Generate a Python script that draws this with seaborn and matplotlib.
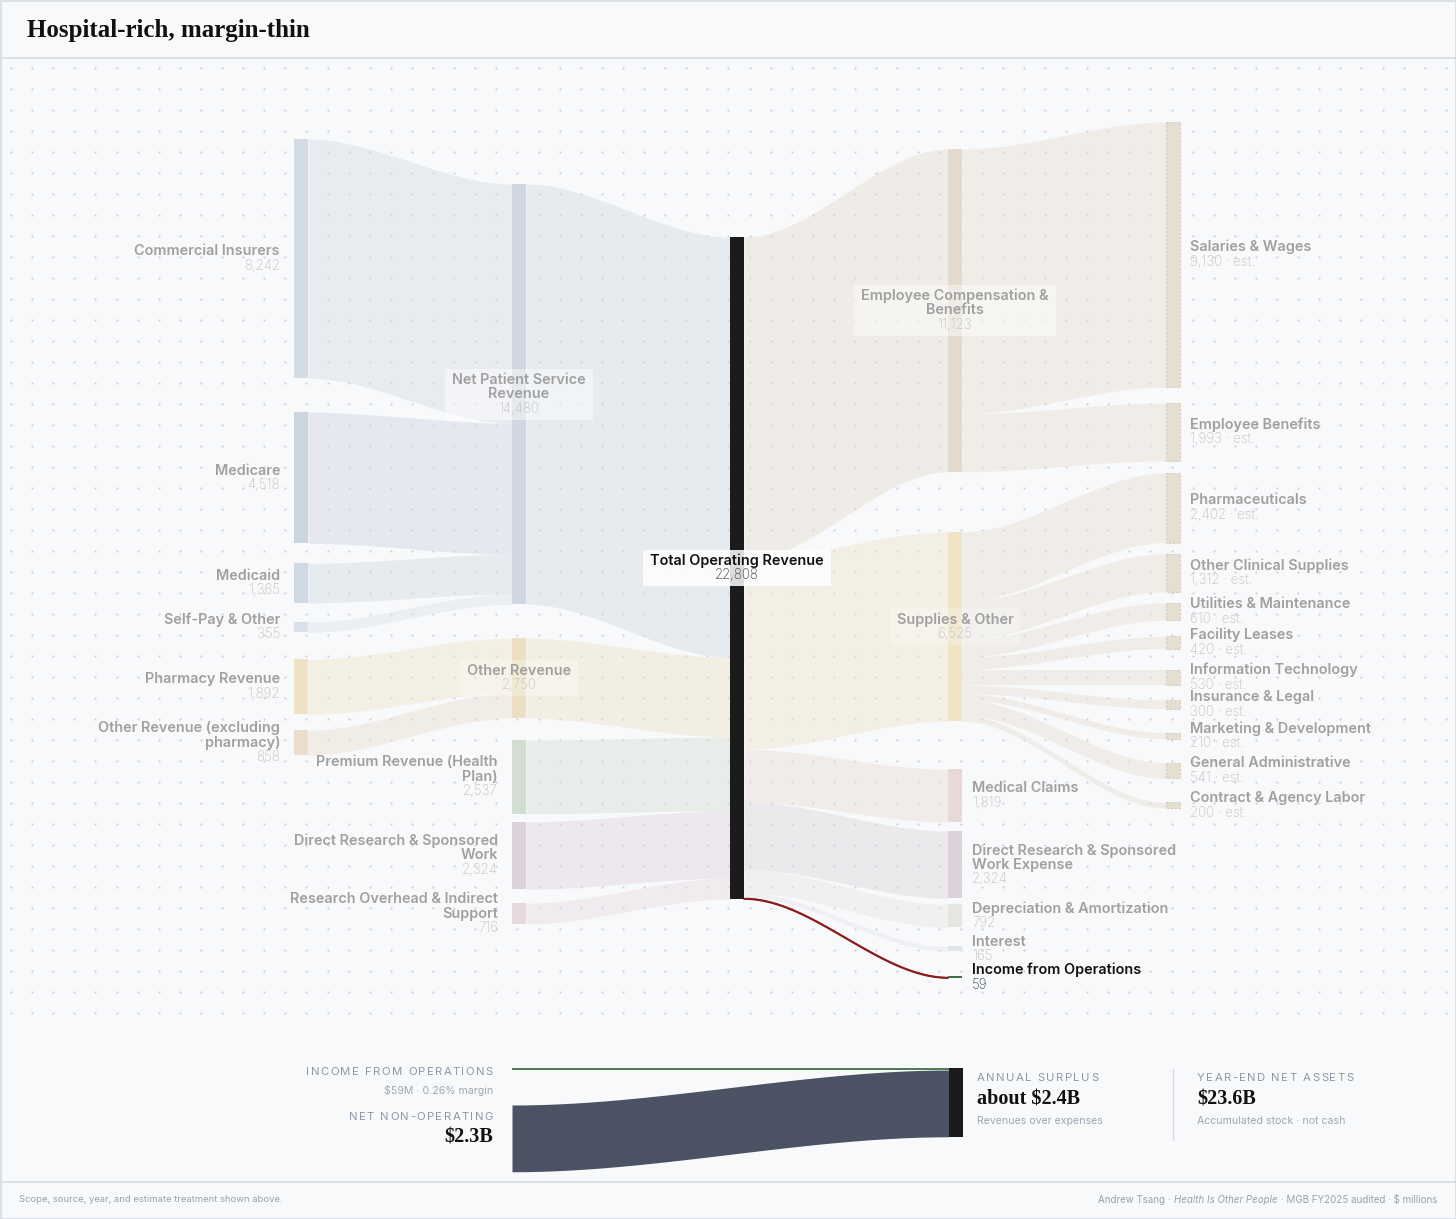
import numpy as np
import matplotlib.pyplot as plt
import seaborn as sns
from matplotlib.patches import Rectangle

# ---- data ($ millions, MGB FY2025) ----
payers = ["Commercial Insurers", "Medicare", "Medicaid", "Self-Pay & Other",
          "Pharmacy Revenue", "Other Revenue (excluding pharmacy)"]
payer_values = [8242, 4518, 1365, 355, 1892, 858]
payer_parent = ["Net Patient Service Revenue"] * 4 + ["Other Revenue"] * 2

revenue_lines = ["Net Patient Service Revenue", "Other Revenue", "Premium Revenue (Health Plan)",
                 "Direct Research & Sponsored Work", "Research Overhead & Indirect Support"]
revenue_values = [14480, 2750, 2537, 2324, 716]

total_name = "Total Operating Revenue"
total_value = 22808

expense_lines = ["Employee Compensation & Benefits", "Supplies & Other", "Medical Claims",
                 "Direct Research & Sponsored Work Expense", "Depreciation & Amortization",
                 "Interest", "Income from Operations"]
expense_values = [11123, 6525, 1819, 2324, 792, 165, 59]

expense_details = ["Salaries & Wages", "Employee Benefits", "Pharmaceuticals",
                   "Other Clinical Supplies", "Utilities & Maintenance", "Facility Leases",
                   "Information Technology", "Insurance & Legal", "Marketing & Development",
                   "General Administrative", "Contract & Agency Labor"]
detail_values = [9130, 1993, 2402, 1312, 610, 420, 530, 300, 210, 541, 200]
detail_parent = ["Employee Compensation & Benefits"] * 2 + ["Supplies & Other"] * 9

bridge_names = ["INCOME FROM OPERATIONS", "NET NON-OPERATING"]
bridge_values = [59, 2300]
bridge_notes = ["$59M · 0.26% margin", "$2.3B"]
summary_titles = ["ANNUAL SURPLUS", "YEAR-END NET ASSETS"]
summary_values = ["about $2.4B", "$23.6B"]
summary_notes = ["Revenues over expenses", "Accumulated stock · not cash"]

wrap = {
    "Other Revenue (excluding pharmacy)": ["Other Revenue (excluding", "pharmacy)"],
    "Net Patient Service Revenue": ["Net Patient Service", "Revenue"],
    "Premium Revenue (Health Plan)": ["Premium Revenue (Health", "Plan)"],
    "Direct Research & Sponsored Work": ["Direct Research & Sponsored", "Work"],
    "Research Overhead & Indirect Support": ["Research Overhead & Indirect", "Support"],
    "Employee Compensation & Benefits": ["Employee Compensation &", "Benefits"],
    "Direct Research & Sponsored Work Expense": ["Direct Research & Sponsored", "Work Expense"],
}

# ---- layout (pixels) ----
W, H = 1456, 1219
BG = "#f8f9fb"
COL_X = [294, 512, 730, 948, 1166]
NODE_W = 14
SCALE = 662 / total_value
col_start = [139, 184, 237, 149, 122]
col_gaps = [[34, 20, 19, 27, 16], [34, 22, 8, 14], [],
            [60, 48, 9, 6, 19, 25], [16, 12, 11, 11, 16, 21, 15, 24, 24, 24]]

node_color = {
    "Commercial Insurers": "#d3dce5", "Medicare": "#cbd5df", "Medicaid": "#cfd9e3",
    "Self-Pay & Other": "#d9e0e8", "Pharmacy Revenue": "#efe2c4",
    "Other Revenue (excluding pharmacy)": "#ebdccb",
    "Net Patient Service Revenue": "#cfd8e1", "Other Revenue": "#ede0c2",
    "Premium Revenue (Health Plan)": "#d3ded3", "Direct Research & Sponsored Work": "#ddd1da",
    "Research Overhead & Indirect Support": "#e6d8de", total_name: "#1b1b1b",
    "Employee Compensation & Benefits": "#e3d9cc", "Supplies & Other": "#f0e3c6",
    "Medical Claims": "#e8d9d4", "Direct Research & Sponsored Work Expense": "#dbd3d9",
    "Depreciation & Amortization": "#e6e5df", "Interest": "#e1e4ea",
    "Income from Operations": "#3f6e48",
}
DETAIL_COLOR = "#e7ded2"

sns.set_theme(style="white")
plt.rcParams["font.family"] = ["Inter", "DejaVu Sans"]

fig = plt.figure(figsize=(W / 100, H / 100), dpi=100)
fig.patch.set_facecolor(BG)
ax = fig.add_axes([0, 0, 1, 1])
ax.set_xlim(0, W)
ax.set_ylim(H, 0)
ax.axis("off")

# dotted background grid
gx, gy = np.meshgrid(np.arange(11, W - 5, 21.1), np.arange(68, 1032, 21))
sns.scatterplot(x=gx.ravel(), y=gy.ravel(), ax=ax, s=2.5, color="#cdd2d9",
                linewidth=0, legend=False, zorder=0)

# ---- build nodes ----
columns = [
    list(zip(payers, payer_values)),
    list(zip(revenue_lines, revenue_values)),
    [(total_name, total_value)],
    list(zip(expense_lines, expense_values)),
    list(zip(expense_details, detail_values)),
]
nodes = {}
for c, col in enumerate(columns):
    y = col_start[c]
    for i, (name, v) in enumerate(col):
        h = v * SCALE
        nodes[name] = dict(col=c, value=v, top=y, h=h)
        y += h
        if i < len(col_gaps[c]):
            y += col_gaps[c][i]

links = ([(s, t, v) for s, t, v in zip(payers, payer_parent, payer_values)]
         + [(s, total_name, v) for s, v in zip(revenue_lines, revenue_values)]
         + [(total_name, t, v) for t, v in zip(expense_lines, expense_values)]
         + [(s, t, v) for s, t, v in zip(detail_parent, expense_details, detail_values)])


def ribbon(x0, x1, y0, y1, h, color, alpha, z=1):
    t = np.linspace(0, 1, 100)
    s = t * t * (3 - 2 * t)
    xs = x0 + (x1 - x0) * t
    ys = y0 + (y1 - y0) * s
    ax.fill_between(xs, ys, ys + h, color=color, alpha=alpha, linewidth=0, zorder=z)
    return xs, ys


out_off = {k: n["top"] for k, n in nodes.items()}
in_off = {k: n["top"] for k, n in nodes.items()}
for s, t, v in links:
    h = v * SCALE
    ns, nt = nodes[s], nodes[t]
    x0 = COL_X[ns["col"]] + NODE_W
    x1 = COL_X[nt["col"]]
    y0, y1 = out_off[s], in_off[t]
    out_off[s] += h
    in_off[t] += h
    if t == "Income from Operations":
        xs, ys = ribbon(x0, x1, y0, y1, h, "#8b1a1a", 1, z=1.5)
        ax.plot(xs, ys + h, color="#8b1a1a", lw=1.3, zorder=1.6)
        continue
    side = s if ns["col"] < 2 else t
    col = node_color.get(side, DETAIL_COLOR)
    ribbon(x0, x1, y0, y1, h, col, 0.42)

# node bars
for name, n in nodes.items():
    x = COL_X[n["col"]]
    h = max(n["h"], 2.2)
    if n["col"] == 4:
        ax.bar(x, h, bottom=n["top"], width=NODE_W, align="edge", color=DETAIL_COLOR,
               edgecolor="#d6cbbd", linestyle=(0, (2, 1.5)), linewidth=0.8, zorder=2)
    else:
        ax.bar(x, h, bottom=n["top"], width=NODE_W, align="edge",
               color=node_color[name], linewidth=0, zorder=2)

# ---- labels ----
LINE = 14.5
renderer = fig.canvas.get_renderer()
inv = ax.transData.inverted()


def label(x, ymid, name_lines, value, ha, strong=False, box=None):
    lines = name_lines + [value]
    y0 = ymid - LINE * (len(lines) - 1) / 2
    texts = []
    for i, s in enumerate(lines):
        is_val = i == len(lines) - 1
        if strong:
            col = "#3a404c" if is_val else "#111111"
        else:
            col = "#c2c2c2" if is_val else "#a0a0a0"
        t = ax.text(x, y0 + i * LINE, s, ha=ha, va="center",
                    fontsize=9.6 if is_val else 10.4,
                    fontweight="light" if is_val else "semibold", color=col, zorder=5)
        texts.append(t)
    if box is not None:
        bbs = [t.get_window_extent(renderer) for t in texts]
        (ax0, ay0) = inv.transform((min(b.x0 for b in bbs), min(b.y0 for b in bbs)))
        (ax1, ay1) = inv.transform((max(b.x1 for b in bbs), max(b.y1 for b in bbs)))
        ytop, ybot = min(ay0, ay1), max(ay0, ay1)
        ax.add_patch(Rectangle((ax0 - 7, ytop - 4), ax1 - ax0 + 14, ybot - ytop + 8,
                               facecolor="white", alpha=box, linewidth=0, zorder=4))


center_boxes = {"Net Patient Service Revenue": 0.45, "Other Revenue": 0.3, total_name: 0.85,
                "Employee Compensation & Benefits": 0.45, "Supplies & Other": 0.25}
for name, n in nodes.items():
    mid = n["top"] + max(n["h"], 2.2) / 2
    lines = wrap.get(name, [name])
    value = f"{n['value']:,}" + (" · est." if n["col"] == 4 else "")
    strong = name in (total_name, "Income from Operations")
    if name in center_boxes:
        label(COL_X[n["col"]] + NODE_W / 2, mid, lines, value, "center", strong,
              box=center_boxes[name])
    elif n["col"] < 2:
        label(COL_X[n["col"]] - 14, mid, lines, value, "right", strong)
    else:
        label(COL_X[n["col"]] + NODE_W + 10, mid, lines, value, "left", strong)


def spaced(x, y, s, ha, size, color, track=1.4):
    # letter-spaced caps, drawn one glyph at a time
    ws = []
    for ch in s:
        if ch == " ":
            ws.append(size * 1.389 * 0.3)
        else:
            tmp = ax.text(0, 0, ch, fontsize=size)
            ws.append(tmp.get_window_extent(renderer).width)
            tmp.remove()
    total = sum(ws) + track * (len(s) - 1)
    xc = x - total if ha == "right" else x
    for ch, w in zip(s, ws):
        if ch != " ":
            ax.text(xc, y, ch, ha="left", va="center", fontsize=size, color=color)
        xc += w + track


# ---- bottom bridge: operations + non-operating = surplus ----
by = 1068.3
inc_h = bridge_values[0] * SCALE
non_h = bridge_values[1] * SCALE
ribbon(512, 949, by, by, max(inc_h, 2), "#4f7d55", 1, z=2)
ribbon(512, 949, 1105, by + inc_h, non_h, "#4a5264", 1, z=2)
ax.bar(949, inc_h + non_h, bottom=by, width=NODE_W, align="edge", color="#1b1b1b",
       linewidth=0, zorder=3)

CAP = "#8e97a6"
NOTE = "#a0a7b2"
spaced(493, 1072, bridge_names[0], "right", 8.2, CAP)
ax.text(493, 1090, bridge_notes[0], ha="right", va="center", fontsize=7.6, color=NOTE)
spaced(493, 1117, bridge_names[1], "right", 8.2, CAP)
ax.text(493, 1137, bridge_notes[1], ha="right", va="center", fontsize=14.5, color="#111111",
        family="Liberation Serif", fontweight="bold")

for x, ttl, val, note in zip([977, 1197], summary_titles, summary_values, summary_notes):
    spaced(x, 1078, ttl, "left", 8.2, CAP)
    ax.text(x, 1099, val, ha="left", va="center", fontsize=14.5, color="#111111",
            family="Liberation Serif", fontweight="bold")
    ax.text(x, 1121, note, ha="left", va="center", fontsize=7.6, color=NOTE)
ax.plot([1173, 1173], [1069, 1140], color="#d5d9df", lw=1, zorder=2)

# ---- header, footer, frame ----
ax.text(27, 31, "Hospital-rich, margin-thin", ha="left", va="center", fontsize=18,
        family="Liberation Serif", fontweight="bold", color="#111111")
ax.plot([0, W], [57.5, 57.5], color="#d8dce2", lw=1.2, zorder=6)
ax.plot([0, W], [1181.5, 1181.5], color="#d8dce2", lw=1.2, zorder=6)
ax.add_patch(Rectangle((0.5, 0.5), W - 1, H - 1, fill=False, edgecolor="#d8dce2",
                       lw=1.2, zorder=6))

FOOT = "#9ba1ab"
ax.text(19, 1200, "Scope, source, year, and estimate treatment shown above.", ha="left",
        va="center", fontsize=6.8, color=FOOT)
pieces = [("· MGB FY2025 audited · $ millions", "normal"), ("Health Is Other People", "italic"),
          ("Andrew Tsang ·", "normal")]
xr = 1437
for txt, style in pieces:
    t = ax.text(xr, 1200, txt, ha="right", va="center", fontsize=7, color=FOOT,
                fontstyle=style)
    bb = t.get_window_extent(renderer)
    xr = inv.transform((bb.x0, bb.y0))[0] - 3

ax.set_xlim(0, W)
ax.set_ylim(H, 0)
fig.savefig("out.png", dpi=100, facecolor=BG)
